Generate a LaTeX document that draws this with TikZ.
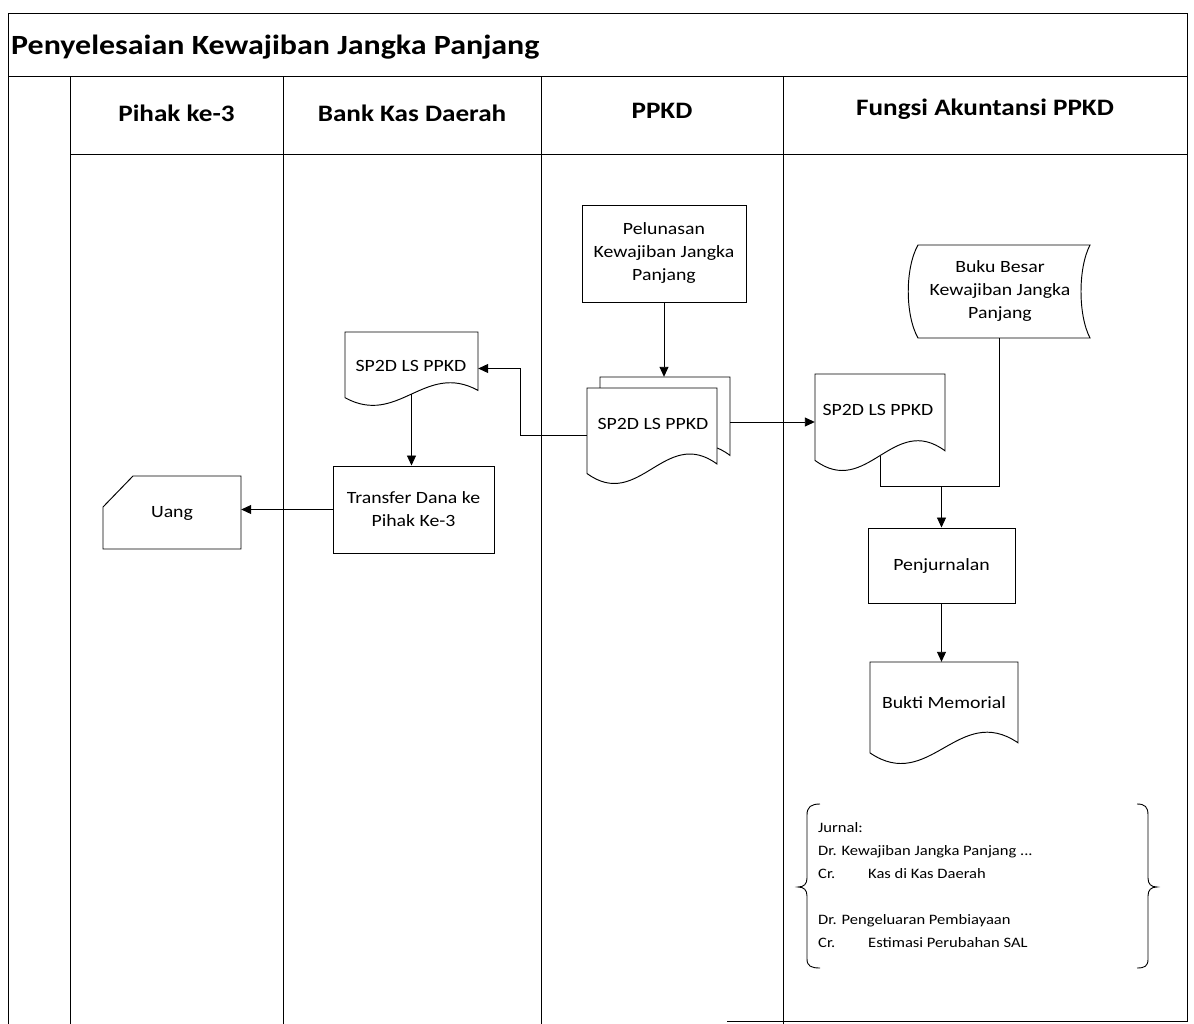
\documentclass[tikz,border=0pt]{standalone}
\usepackage{fontspec}
\setmainfont{Carlito}[FakeStretch=1.15]
\usetikzlibrary{arrows.meta,calc}
\newcommand\bodyfont{\fontsize{17.2}{23}\selectfont}
\newcommand\jfont{\fontsize{14.4}{23}\selectfont}
\newcommand\headfont{\fontsize{23.6}{26}\selectfont\bfseries}
\newcommand\titlefont{\fontsize{27.8}{30}\selectfont\bfseries}
\tikzset{
  frame/.style={line width=1pt},
  shp/.style={draw, line width=0.95pt, fill=white},
  conn/.style={line width=0.9pt},
  arr/.style={line width=0.9pt, -{Triangle[length=10pt,width=9pt]}},
  txt/.style={inner sep=0pt, align=center, font=\bodyfont},
  area/.style={inner sep=0pt, draw=none},
}
% document outline: L T R B
\newcommand\docpath[4]{%
  \pgfmathsetmacro\dA{0.1*(#4-#2)}%
  \draw[shp] (#1,#2) -- (#3,#2) -- (#3,{#4-2*\dA})
    .. controls ({#1+0.6*(#3-#1)},{#4-6*\dA}) and ({#1+0.4*(#3-#1)},{#4+3*\dA}) ..
    (#1,{#4-\dA}) -- cycle;}
% named area node: name L T R B
\newcommand\areanode[5]{%
  \node[area, minimum width={#4-#2}, minimum height={#5-#3}] (#1) at ({(#2+#4)/2},{(#3+#5)/2}) {};}
\begin{document}
\begin{tikzpicture}[x=1pt,y=-1pt]
\useasboundingbox (0,0) rectangle (1194,1024);
% ---------- frame ----------
\draw[frame] (8,1024) -- (8,14) -- (1187,14) -- (1187,1021) -- (727,1021);
\draw[frame] (8,77) -- (1187,77);
\draw[frame] (70,155) -- (1187,155);
\foreach \xx in {70,283,541,783} \draw[frame] (\xx,77) -- (\xx,1024);
\node[anchor=west, inner sep=0pt, font=\titlefont] (title) at (11,47) {Penyelesaian Kewajiban Jangka Panjang};
\node[inner sep=0pt, font=\headfont] (h1) at (176.5,113) {Pihak ke-3};
\node[inner sep=0pt, font=\headfont] (h2) at (412,113) {Bank Kas Daerah};
\node[inner sep=0pt, font=\headfont] (h3) at (662,111) {PPKD};
\node[inner sep=0pt, font=\headfont] (h4) at (985,109) {Fungsi Akuntansi PPKD};
% ---------- shapes ----------
% Pelunasan
\node[shp, txt, minimum width=164pt, minimum height=97pt] (pel) at (664,253.5) {Pelunasan\\Kewajiban Jangka\\Panjang};
% stacked documents PPKD
\areanode{backdoc}{600}{377}{730}{475}
\docpath{600}{377}{730}{475}
\areanode{frontdoc}{587}{388}{717}{483}
\docpath{587}{388}{717}{483}
\node[txt] (frontdoc-t) at (653,424) {SP2D LS PPKD};
% bank doc
\areanode{bankdoc}{345}{332}{478}{405}
\docpath{345}{332}{478}{405}
\node[txt] (bankdoc-t) at (411,366) {SP2D LS PPKD};
\coordinate (bankwave) at (411.5,{405-1.5*7.3});
% transfer
\node[shp, txt, minimum width=161pt, minimum height=87pt] (transfer) at (413.5,509.5) {Transfer Dana ke\\Pihak Ke-3};
% Uang card
\areanode{uang}{103}{476}{241}{549}
\draw[shp] (103,507) -- (133,476) -- (241,476) -- (241,549) -- (103,549) -- cycle;
\node[txt] (uang-t) at (172,513) {Uang};
% accounting doc
\areanode{accdoc}{815}{374}{945}{470}
\docpath{815}{374}{945}{470}
\node[txt] (accdoc-t) at (878,410) {SP2D LS PPKD};
\coordinate (accwave) at (880,{470-1.5*9.6});
% Buku Besar (stored data)
\areanode{buku}{908}{245}{1090}{338}
\draw[shp] (918,245) -- (1090,245) .. controls (1078,268) and (1078,315) .. (1090,338)
  -- (918,338) .. controls (905,315) and (905,268) .. cycle;
\node[txt] (buku-t) at (1000,291) {Buku Besar\\Kewajiban Jangka\\Panjang};
% Penjurnalan
\node[shp, txt, minimum width=147pt, minimum height=75pt] (penj) at (941.5,565.5) {Penjurnalan};
% Bukti memorial
\areanode{bukti}{870}{662}{1018}{763}
\docpath{870}{662}{1018}{763}
\node[txt] (bukti-t) at (944,703) {Bukti Memorial};
% ---------- connectors ----------
\draw[arr] (pel.south) -- (pel.south |- backdoc.north);
\coordinate (bend1) at (520,435.5);
\draw[arr] (frontdoc.west) -- (bend1) |- (bankdoc.east);
\draw[arr] (bankwave) -- (bankwave |- transfer.north);
\draw[arr] (transfer.west) -- (transfer.west -| uang.east);
\draw[arr] (accdoc.west -| backdoc.east) -- (accdoc.west);
\coordinate (junc) at (941.5,486);
\draw[conn] (accwave) |- (junc);
\draw[conn] (buku.south) |- (junc);
\draw[arr] (junc) -- (penj.north);
\draw[arr] (penj.south) -- (penj.south |- bukti.north);
% ---------- journal with braces ----------
\draw[line width=0.9pt] (820,804) .. controls (811,804) and (807,807) .. (807,815) -- (807,878)
  .. controls (807,884) and (804,887) .. (798,887) .. controls (804,887) and (807,890) .. (807,896)
  -- (807,959) .. controls (807,966) and (811,968) .. (820,968);
\draw[line width=0.9pt] (1137,804) .. controls (1145,804) and (1148,807) .. (1148,815) -- (1148,878)
  .. controls (1148,884) and (1151,887) .. (1157,887) .. controls (1151,887) and (1148,890) .. (1148,896)
  -- (1148,959) .. controls (1148,966) and (1145,968) .. (1137,968);
\node[anchor=north west, inner sep=0pt, align=left, font=\jfont] (jurnal) at (818,822)
  {Jurnal:\\Dr. Kewajiban Jangka Panjang ...\\\makebox[50pt][l]{Cr.}Kas di Kas Daerah\\[23pt]Dr. Pengeluaran Pembiayaan\\\makebox[50pt][l]{Cr.}Estimasi Perubahan SAL};
\end{tikzpicture}
\end{document}
